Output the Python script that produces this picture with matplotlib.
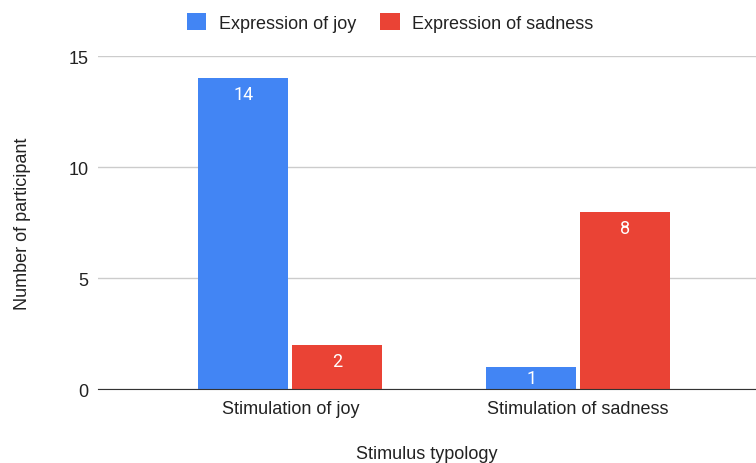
import matplotlib.pyplot as plt
import numpy as np

categories = ['Stimulation of joy', 'Stimulation of sadness']
series_names = ['Expression of joy', 'Expression of sadness']
joy_values = [14, 1]
sadness_values = [2, 8]
y_ticks = [0, 5, 10, 15]

colors = ['#4285F4', '#EA4335']
text_color = '#222222'

plt.rcParams['font.family'] = ['Liberation Sans', 'DejaVu Sans']

fig = plt.figure(figsize=(7.56, 4.64), dpi=100)
ax = fig.add_axes([0.13, 0.159, 0.87, 0.718])

x = np.arange(len(categories))
width = 0.3125
offset = 0.163

ax.set_xlim(-0.667, 1.618)
ax.set_ylim(0, 15)

# pixels per data unit on the y axis, to keep value labels inside short bars
px_per_unit = ax.get_position().height * fig.get_figheight() * fig.dpi / 15

for i, (vals, name) in enumerate([(joy_values, series_names[0]),
                                  (sadness_values, series_names[1])]):
    pos = x + (-offset if i == 0 else offset)
    bars = ax.bar(pos, vals, width=width, color=colors[i], label=name, zorder=3)
    for b, v in zip(bars, vals):
        drop_px = min(16, v * px_per_unit / 2)
        ax.annotate(str(v), (b.get_x() + b.get_width() / 2, v),
                    xytext=(0, -drop_px * 72 / fig.dpi), textcoords='offset points',
                    ha='center', va='center', color='white', fontsize=13,
                    family=['Roboto', 'DejaVu Sans'], zorder=4)

ax.set_yticks(y_ticks)
ax.set_xticks(x)
ax.set_xticklabels(categories, fontsize=13, color=text_color)
ax.tick_params(axis='y', labelsize=13, colors=text_color, length=0, pad=7)
ax.tick_params(axis='x', length=0, pad=8)
ax.grid(axis='y', color='#cccccc', linewidth=1, zorder=0)
for s in ['top', 'right', 'left']:
    ax.spines[s].set_visible(False)
ax.spines['bottom'].set_color('#333333')
ax.spines['bottom'].set_zorder(5)

ax.set_xlabel('Stimulus typology', fontsize=13, color=text_color, labelpad=20)
ax.set_ylabel('Number of participant', fontsize=13, color=text_color, labelpad=27)

fig.legend(loc='upper center', bbox_to_anchor=(0.516, 1.005), ncol=2, frameon=False,
           fontsize=13, handlelength=1.1, handleheight=1.1, columnspacing=1.3,
           handletextpad=0.7, labelcolor=text_color)

fig.savefig('out.png', dpi=100)
